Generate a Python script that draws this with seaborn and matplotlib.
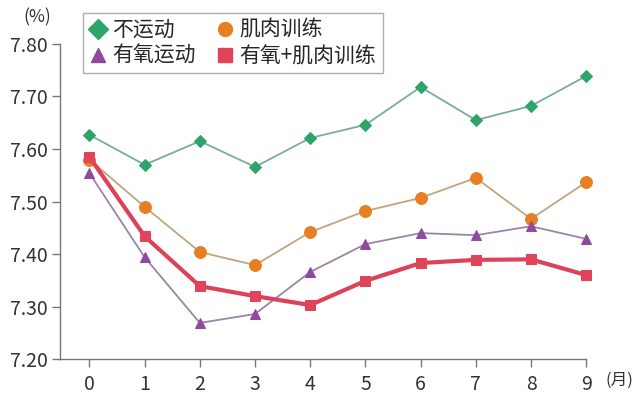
import matplotlib
matplotlib.use("Agg")
import matplotlib.pyplot as plt
import seaborn as sns
import pandas as pd
from matplotlib.lines import Line2D

months = [0, 1, 2, 3, 4, 5, 6, 7, 8, 9]
series_names = ["不运动", "肌肉训练", "有氧运动", "有氧+肌肉训练"]
no_exercise = [7.627, 7.570, 7.615, 7.566, 7.621, 7.646, 7.718, 7.655, 7.682, 7.739]
muscle = [7.580, 7.490, 7.404, 7.379, 7.442, 7.482, 7.507, 7.545, 7.467, 7.537]
aerobic = [7.554, 7.394, 7.269, 7.286, 7.366, 7.419, 7.440, 7.436, 7.453, 7.429]
combined = [7.585, 7.434, 7.339, 7.320, 7.303, 7.349, 7.383, 7.389, 7.390, 7.360]
y_ticks = [7.20, 7.30, 7.40, 7.50, 7.60, 7.70, 7.80]

sns.set_theme(style="ticks")
plt.rcParams["font.family"] = ["Noto Sans CJK SC", "DejaVu Sans"]

df = pd.DataFrame({
    "month": months * 4,
    "value": no_exercise + muscle + aerobic + combined,
    "group": sum([[n] * len(months) for n in series_names], []),
})

styles = {
    "不运动": dict(line="#79ae94", mk="#2ea36a", marker="D", ms=6.5, lw=1.3),
    "肌肉训练": dict(line="#c0a57e", mk="#e67e22", marker="o", ms=8.5, lw=1.3),
    "有氧运动": dict(line="#9c83a8", mk="#8e4a9c", marker="^", ms=7, lw=1.3),
    "有氧+肌肉训练": dict(line="#dc4258", mk="#e04458", marker="s", ms=7.5, lw=3.0),
}

fig = plt.figure(figsize=(6.4, 3.96), dpi=100)
ax = fig.add_axes([0.094, 0.093, 0.822, 0.796])

for name in series_names:
    st = styles[name]
    sub = df[df["group"] == name]
    sns.lineplot(data=sub, x="month", y="value", ax=ax, color=st["line"],
                 linewidth=st["lw"], marker=st["marker"], markersize=st["ms"],
                 markerfacecolor=st["mk"], markeredgecolor=st["mk"],
                 label=name, legend=False)
for ln in ax.get_lines():
    ln.set_clip_on(False)

ax.set_xlim(-0.53, 9)
ax.set_ylim(7.2, 7.8)
ax.set_xticks(months)
ax.set_yticks(y_ticks)
ax.set_yticklabels([f"{v:.2f}" for v in y_ticks])
ax.set_xlabel("")
ax.set_ylabel("")
for s in ["top", "right"]:
    ax.spines[s].set_visible(False)
for s in ["left", "bottom"]:
    ax.spines[s].set_color("#777777")
    ax.spines[s].set_linewidth(1.0)
ax.tick_params(axis="both", colors="#777777", labelcolor="#333333",
               labelsize=14, length=6, width=1.0)
ax.tick_params(axis="x", pad=5)
ax.tick_params(axis="y", pad=3)

fig.text(0.058, 0.955, "(%)", fontsize=12.5, color="#333333", ha="center", va="center")
fig.text(0.99, 0.04, "(月)", fontsize=12, color="#333333", ha="right", va="center")

handles = [Line2D([], [], linestyle="none", marker=styles[n]["marker"],
                  markersize=10, markerfacecolor=styles[n]["mk"],
                  markeredgecolor=styles[n]["mk"]) for n in series_names]
order = [0, 2, 1, 3]
leg = fig.legend([handles[i] for i in order], [series_names[i] for i in order],
                 ncol=2, loc="upper left", bbox_to_anchor=(0.13, 0.968),
                 fontsize=15, frameon=True, fancybox=False, handlelength=0.8,
                 handletextpad=0.3, columnspacing=1.0, labelspacing=0.2,
                 borderpad=0.3, borderaxespad=0)
leg.get_frame().set_edgecolor("#999999")
leg.get_frame().set_linewidth(1.0)

fig.savefig("out.png", dpi=100)
